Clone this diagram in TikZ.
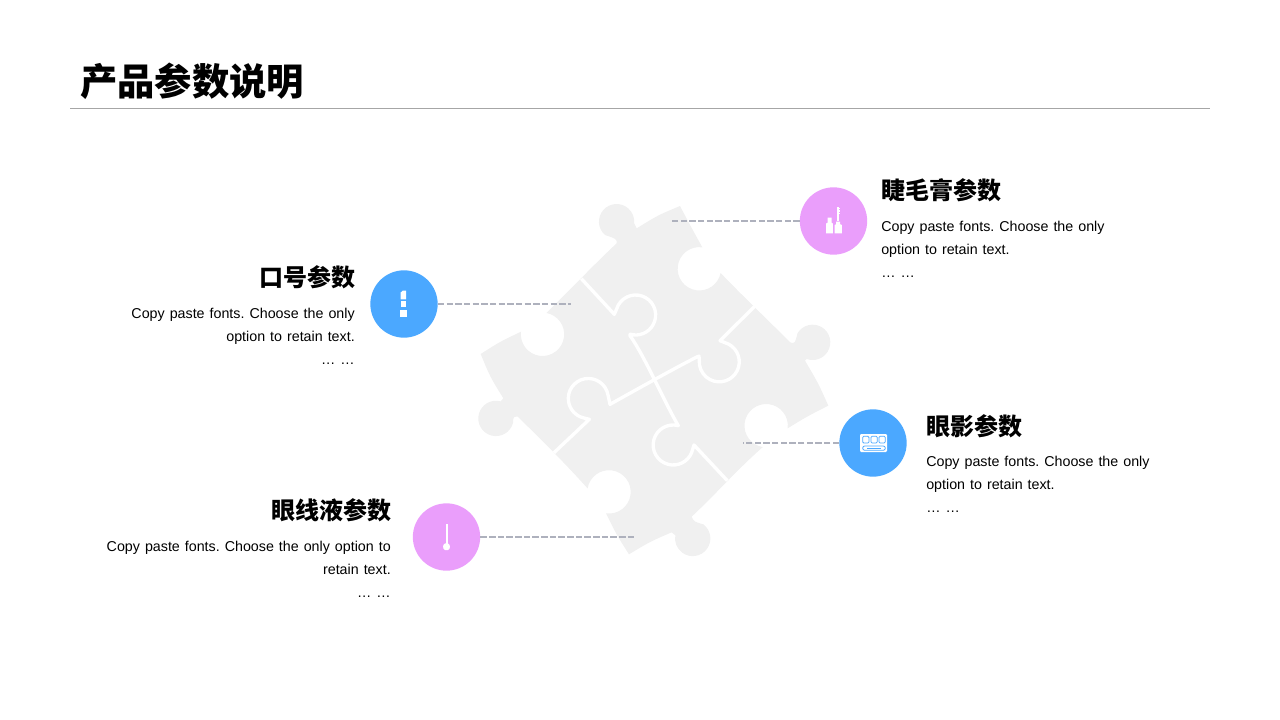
\documentclass[tikz,border=0pt]{standalone}
\usepackage{fontspec}
\setmainfont{Liberation Sans}
\newfontfamily\cjk{Noto Sans CJK SC}
\newfontfamily\copyfont[WordSpace=1.26]{Liberation Sans}
\definecolor{skyblue}{HTML}{4BA8FF}
\definecolor{orchid}{HTML}{EA9EFB}
\definecolor{piecegray}{HTML}{F0F0F0}
\definecolor{leadgray}{HTML}{AEB1BD}
\tikzset{
  badge/.style={circle,minimum size=50.5pt,inner sep=0pt},
  lead/.style={draw=leadgray,line width=1.4pt,dash pattern=on 4.8pt off 1.7pt},
  heading/.style={font=\cjk\bfseries\fontsize{18pt}{20pt}\selectfont,inner sep=0pt},
  body/.style={font=\copyfont\fontsize{10.7pt}{17.5pt}\selectfont\frenchspacing,inner sep=0pt},
  icon/.style={fill=white,draw=none},
  seam/.style={draw=white,line width=2.5pt,line join=round},
  pan/.style={draw=skyblue,line width=0.6pt,rounded corners=0.8pt}
}
\begin{document}
\begin{tikzpicture}[x=0.75pt,y=-0.75pt]
        \useasboundingbox (0,0) rectangle (1280,720);
        \node[font=\cjk\bfseries\fontsize{28pt}{30pt}\selectfont,inner sep=0pt,anchor=west] (title) at (80,81) {产品参数说明};
        \coordinate (ruleleft) at (70,108.5);
        \coordinate (ruleright) at (1210,108.5);
        \draw[color=black!35,line width=0.75pt] (ruleleft) -- (ruleright);
        \begin{scope}[shift={(470,195)},x=0.25pt,y=-0.25pt]
          \fill[piecegray] (630,33) .. controls (660,90) .. (697,157)
            arc (-82:-349:65) .. controls (800,285) and (880,362) .. (962,443)
            .. controls (975,445) .. (982.5,414.7) arc (-149:110:53) -- (1005,497)
            .. controls (1045,565) .. (1075,632) .. controls (1010,665) .. (953,700)
            arc (7:-261:65) .. controls (800,825) and (740,895) .. (665,965)
            .. controls (672,980) .. (700,988) arc (-53:190:53) -- (605,1012)
            .. controls (540,1040) .. (477,1078) .. controls (440,1020) .. (408,955)
            arc (98:-171:65) .. controls (290,810) and (215,735) .. (143,665)
            .. controls (130,665) .. (129,684) arc (15:285:53) -- (100,610)
            .. controls (60,545) .. (32,477) .. controls (90,440) .. (153,410)
            arc (187:-80:65) .. controls (300,285) and (370,210) .. (440,145)
            .. controls (440,132) .. (405,120) arc (131:365:53) -- (500,100)
            .. controls (565,60) .. (630,33) -- cycle;
          \draw[seam] (334,251) -- (433,358) -- (445,330) arc (-150:106:60) -- (480,422)
            .. controls (525,485) and (585,625) .. (625,692)
            arc (-75:-337:60) -- (672,750) -- (772,857);
          \draw[seam] (854,334) -- (750,437) -- (775,447) arc (-63:170:60) -- (687,483)
            .. controls (640,505) and (470,600) .. (420,628)
            -- (414,600) arc (-10:-256:60) -- (358,673) -- (252,773);
        \end{scope}
        \node[badge,fill=skyblue] (lip) at (404,304) {};
        \node[badge,fill=orchid] (lash) at (833.5,221) {};
        \node[badge,fill=skyblue] (shadow) at (873,443) {};
        \node[badge,fill=orchid] (liner) at (446.5,537) {};
        \coordinate (lipend) at (571,304);
        \coordinate (lashend) at (670,221);
        \coordinate (shadowend) at (743,443);
        \coordinate (linerend) at (634,537);
        \draw[lead] (lip) -- (lipend);
        \draw[lead] (lash) -- (lashend);
        \draw[lead] (shadow) -- (shadowend);
        \draw[lead] (liner) -- (linerend);
        \begin{scope}[shift={(lip)}]
          \fill[icon] (-3.3,-4.7) -- (-3.3,-11.5) -- (-1.3,-13.3) -- (2,-13.5) -- (2,-4.7) -- cycle;
          \fill[icon] (-3.3,-2.6) rectangle (2,3.4);
          \fill[icon] (-4,5.7) rectangle (2.7,13);
        \end{scope}
        \begin{scope}[shift={(lash)}]
          \fill[icon] (-7.3,12.3) -- (-7.3,2.5) -- (-6,1.8) -- (-6,-3.3) -- (-2,-3.3) -- (-2,1.8) -- (-0.7,2.5) -- (-0.7,12.3) -- cycle;
          \fill[icon] (1,12.3) -- (1,4) -- (2.6,3.2) -- (2.6,0.7) -- (6.6,0.7) -- (6.6,3.2) -- (8.3,4) -- (8.3,12.3) -- cycle;
          \fill[icon] (3,0) rectangle (5.4,-13.7);
          \fill[icon] (5.4,-13.2) rectangle (6.8,-11.9);
          \fill[icon] (5.4,-10.7) rectangle (6.8,-9.4);
          \fill[icon] (5.4,-8.2) rectangle (6.8,-6.9);
        \end{scope}
        \begin{scope}[shift={(shadow)}]
          \fill[icon,rounded corners=0.8pt] (-13,-9) rectangle (14,9);
          \foreach \sx in {-10.3,-2,6}
            \draw[pan] (\sx,-6.7) rectangle ++(6.2,6.7);
          \draw[pan,rounded corners=1.5pt] (-10.3,3) rectangle (12.3,7.3);
          \draw[pan] (-6,5.1) -- (8,5.1);
        \end{scope}
        \begin{scope}[shift={(liner)}]
          \fill[icon] (-1,-13) rectangle (1,7);
          \fill[icon,rounded corners=1pt] (0,5.5) -- (3.7,8) -- (2.8,13) -- (-2.8,13) -- (-3.7,8) -- cycle;
        \end{scope}
        \node[heading,anchor=east] (liphead) at (355.5,277) {口号参数};
        \node[body,anchor=north east,align=right] (liptext) at (355,307.5) {Copy paste fonts. Choose the only\\option to retain text.\\… …};
        \node[heading,anchor=west] (lashhead) at (881,190) {睫毛膏参数};
        \node[body,anchor=north west,align=left] (lashtext) at (881,220.5) {Copy paste fonts. Choose the only\\option to retain text.\\… …};
        \node[heading,anchor=west] (shadowhead) at (926,426) {眼影参数};
        \node[body,anchor=north west,align=left] (shadowtext) at (926,455.5) {Copy paste fonts. Choose the only\\option to retain text.\\… …};
        \node[heading,anchor=east] (linerhead) at (391.5,510) {眼线液参数};
        \node[body,anchor=north east,align=right] (linertext) at (391,540.5) {Copy paste fonts. Choose the only option to\\retain text.\\… …};
      \end{tikzpicture}
\end{document}
